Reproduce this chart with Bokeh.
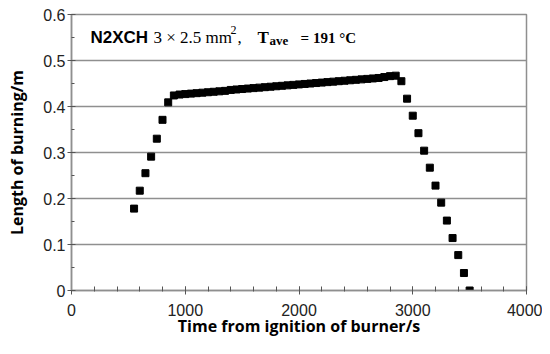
from bokeh.plotting import figure
from bokeh.models import Range1d, FixedTicker, Label
from bokeh.embed import file_html
from bokeh.resources import INLINE

# ---- data ----
time_s = [550, 600, 650, 700, 750, 800, 850,
          900, 950, 1000, 1050, 1100, 1150, 1200, 1250, 1300, 1350,
          1400, 1450, 1500, 1550, 1600, 1650, 1700, 1750, 1800, 1850,
          1900, 1950, 2000, 2050, 2100, 2150, 2200, 2250, 2300, 2350,
          2400, 2450, 2500, 2550, 2600, 2650, 2700, 2750, 2800, 2850,
          2900, 2950, 3000, 3050, 3100, 3150, 3200, 3250, 3300, 3350,
          3400, 3450, 3500]
length_m = [0.178, 0.217, 0.255, 0.291, 0.330, 0.371, 0.409,
            0.424, 0.426, 0.427, 0.428, 0.429, 0.430, 0.431, 0.432, 0.433, 0.434,
            0.436, 0.437, 0.438, 0.439, 0.440, 0.441, 0.442, 0.443, 0.444, 0.445,
            0.446, 0.447, 0.448, 0.449, 0.450, 0.451, 0.452, 0.453, 0.454, 0.455,
            0.456, 0.457, 0.458, 0.459, 0.460, 0.461, 0.462, 0.464, 0.466, 0.467,
            0.455, 0.417, 0.380, 0.342, 0.304, 0.267, 0.228, 0.191, 0.152, 0.114,
            0.077, 0.038, 0.0]

x_ticks = [0, 1000, 2000, 3000, 4000]
y_ticks = [0, 0.1, 0.2, 0.3, 0.4, 0.5, 0.6]
y_tick_labels = ["0", "0.1", "0.2", "0.3", "0.4", "0.5", "0.6"]

GRAY = "#8f8f8f"

p = figure(frame_width=455, frame_height=276,
           min_border_left=71, min_border_right=16,
           min_border_top=14, min_border_bottom=48,
           x_range=Range1d(0, 4000), y_range=Range1d(0, 0.6),
           output_backend="svg", toolbar_location=None,
           background_fill_color="white", border_fill_color="white")

p.scatter(time_s, length_m, marker="square", size=7,
          fill_color="black", line_color="black")

# axes
for ax in (p.xaxis[0], p.yaxis[0]):
    ax.axis_line_color = GRAY
    ax.axis_line_width = 1.5
    ax.major_tick_line_color = "#555555"
    ax.minor_tick_line_color = "#555555"
    ax.major_label_text_font = "Liberation Sans"
    ax.major_label_text_font_size = "16px"
    ax.major_label_text_color = "#222222"
    ax.axis_label_text_font = "Open Sans"
    ax.axis_label_text_font_style = "bold"
    ax.axis_label_text_font_size = "16px"
    ax.axis_label_text_color = "black"

p.xaxis.ticker = FixedTicker(ticks=x_ticks,
                             minor_ticks=list(range(0, 4001, 200)))
p.yaxis.ticker = FixedTicker(ticks=y_ticks,
                             minor_ticks=[i * 0.05 for i in range(13)])
p.yaxis.major_label_overrides = {t: l for t, l in zip(y_ticks, y_tick_labels)}

p.xaxis.major_tick_in = 4
p.xaxis.major_tick_out = 4
p.xaxis.minor_tick_in = 4
p.xaxis.minor_tick_out = 1
p.yaxis.major_tick_in = 4
p.yaxis.major_tick_out = 4
p.yaxis.minor_tick_in = 3
p.yaxis.minor_tick_out = 0
p.xaxis.major_label_standoff = 9
p.yaxis.major_label_standoff = 2
p.xaxis.axis_label = "Time from ignition of burner/s"
p.yaxis.axis_label = "Length of burning/m"
p.xaxis.axis_label_standoff = -4
p.yaxis.axis_label_standoff = 12

# grid
p.xgrid.visible = False
p.ygrid.grid_line_color = GRAY
p.ygrid.grid_line_width = 1.5
p.outline_line_color = GRAY
p.outline_line_width = 1.5

# annotation title inside the plot (positions in data units)
def px2x(px):
    return (px - 71) / 0.1137

base_y = 0.55
labels = [
    ("N2XCH", 90, 0, "Liberation Sans", "bold", "17px"),
    ("3 \u00d7 2.5 mm", 153, 0, "Liberation Serif", "normal", "17px"),
    ("2", 230, 0.017, "Liberation Serif", "normal", "12px"),
    (",", 237, 0, "Liberation Serif", "normal", "17px"),
    ("T", 257, 0, "Liberation Serif", "bold", "17px"),
    ("ave", 269, -0.007, "Liberation Serif", "bold", "13px"),
    ("= 191 \u00b0C", 300, 0, "Liberation Serif", "bold", "15px"),
]
for txt, px, dy, font, style, size in labels:
    p.add_layout(Label(x=px2x(px), y=base_y + dy, text=txt,
                       text_font=font, text_font_style=style,
                       text_font_size=size, text_color="black",
                       text_baseline="alphabetic", text_align="left"))

open("out.html", "w").write(file_html(p, INLINE))
